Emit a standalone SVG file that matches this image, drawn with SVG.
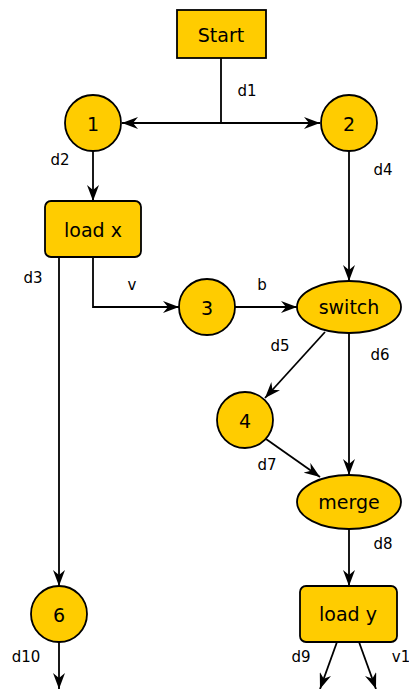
<svg xmlns="http://www.w3.org/2000/svg" width="409" height="689" viewBox="0 0 409 689">
  <style>
    .node { fill: #FFCC00; stroke: #000; stroke-width: 1.8; }
    .lbl { font-family: "DejaVu Sans", Verdana, sans-serif; font-size: 19px; fill: #000; text-anchor: middle; dominant-baseline: central; }
    .elbl { font-family: "DejaVu Sans", Verdana, sans-serif; font-size: 15px; fill: #000; text-anchor: middle; dominant-baseline: central; }
    .edge { fill: none; stroke: #000; stroke-width: 1.8; }
  </style>
  <defs>
    <marker id="arrow" viewBox="0 0 16 12" refX="16" refY="6" markerWidth="16" markerHeight="12" markerUnits="userSpaceOnUse" orient="auto-start-reverse">
      <path d="M0,0 L16,6 L0,12 L5,6 z" fill="#000"/>
    </marker>
  </defs>

  <g id="edges">
    <path class="edge" d="M221,58 V123"/>
    <path class="edge" d="M122,123 H320" marker-start="url(#arrow)" marker-end="url(#arrow)"/>
    <path class="edge" d="M93,151 V201" marker-end="url(#arrow)"/>
    <path class="edge" d="M349,151 V281" marker-end="url(#arrow)"/>
    <path class="edge" d="M59,257 V586" marker-end="url(#arrow)"/>
    <path class="edge" d="M93,257 V307 H179" marker-end="url(#arrow)"/>
    <path class="edge" d="M235,307 H297" marker-end="url(#arrow)"/>
    <path class="edge" d="M325,332 L265,398" marker-end="url(#arrow)"/>
    <path class="edge" d="M349,333 V475" marker-end="url(#arrow)"/>
    <path class="edge" d="M266,439 L320,477" marker-end="url(#arrow)"/>
    <path class="edge" d="M349,529 V586" marker-end="url(#arrow)"/>
    <path class="edge" d="M337,642 L320,689" marker-end="url(#arrow)"/>
    <path class="edge" d="M359,642 L376,689" marker-end="url(#arrow)"/>
    <path class="edge" d="M59,642 V689" marker-end="url(#arrow)"/>
  </g>

  <g id="edge-labels">
    <text class="elbl" x="247" y="91">d1</text>
    <text class="elbl" x="60" y="160">d2</text>
    <text class="elbl" x="383" y="170">d4</text>
    <text class="elbl" x="33" y="278">d3</text>
    <text class="elbl" x="132" y="285">v</text>
    <text class="elbl" x="262" y="285">b</text>
    <text class="elbl" x="280" y="346">d5</text>
    <text class="elbl" x="380" y="355">d6</text>
    <text class="elbl" x="267" y="465">d7</text>
    <text class="elbl" x="383" y="544">d8</text>
    <text class="elbl" x="301" y="657">d9</text>
    <text class="elbl" x="401" y="657">v1</text>
    <text class="elbl" x="26" y="657">d10</text>
  </g>

  <g id="start">
    <rect class="node" x="177" y="10" width="89" height="48"/>
    <text class="lbl" x="221" y="35">Start</text>
  </g>
  <g id="n1">
    <circle class="node" cx="93" cy="123" r="28"/>
    <text class="lbl" x="93" y="124">1</text>
  </g>
  <g id="n2">
    <circle class="node" cx="349" cy="123" r="28"/>
    <text class="lbl" x="349" y="124">2</text>
  </g>
  <g id="loadx">
    <rect class="node" x="45" y="201" width="96" height="56" rx="6"/>
    <text class="lbl" x="93" y="230">load x</text>
  </g>
  <g id="n3">
    <circle class="node" cx="207" cy="307" r="28"/>
    <text class="lbl" x="207" y="308">3</text>
  </g>
  <g id="switch">
    <ellipse class="node" cx="349" cy="307" rx="52" ry="26"/>
    <text class="lbl" x="349" y="307">switch</text>
  </g>
  <g id="n4">
    <circle class="node" cx="245" cy="420" r="28"/>
    <text class="lbl" x="245" y="421">4</text>
  </g>
  <g id="merge">
    <ellipse class="node" cx="349" cy="502" rx="52" ry="27"/>
    <text class="lbl" x="349" y="502">merge</text>
  </g>
  <g id="loady">
    <rect class="node" x="300" y="586" width="97" height="56" rx="6"/>
    <text class="lbl" x="348" y="614">load y</text>
  </g>
  <g id="n6">
    <circle class="node" cx="59" cy="614" r="28"/>
    <text class="lbl" x="59" y="615">6</text>
  </g>
</svg>
